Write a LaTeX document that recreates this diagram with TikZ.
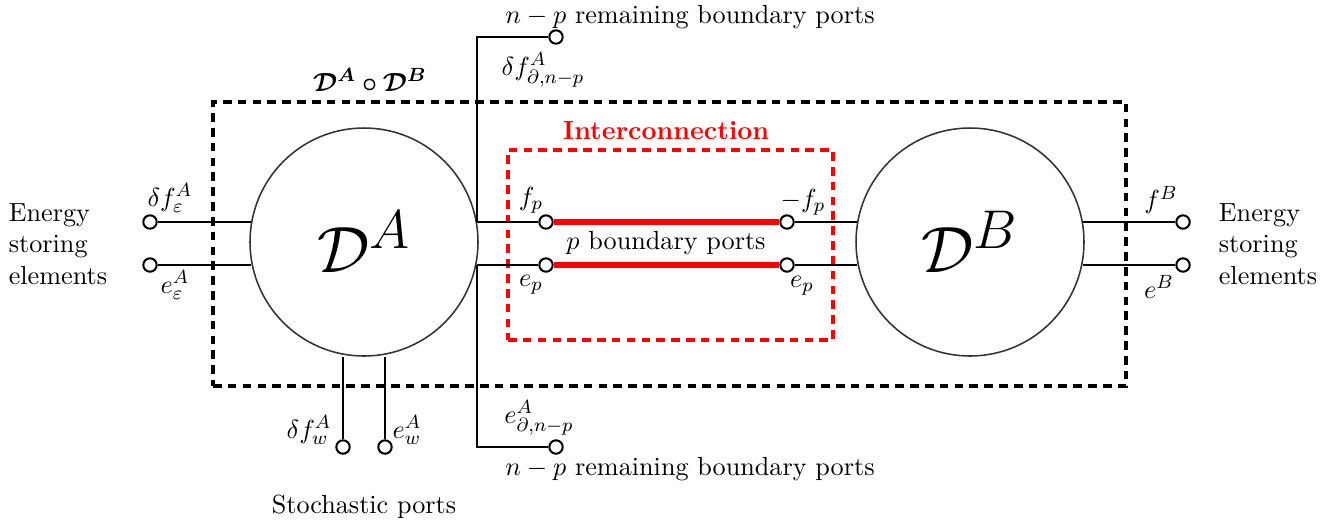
\documentclass[11pt,tikz,border=0pt]{standalone}
\usepackage{amsmath,amssymb,bm}
\begin{document}
\begin{tikzpicture}[x=0.418pt,y=-0.418pt,
  port/.style={circle,draw,line width=0.85pt,inner sep=0pt,minimum size=5.6pt,fill=white},
  wire/.style={line width=0.85pt},
  bigc/.style={circle,draw=black!80,line width=0.65pt,inner sep=0pt,minimum size=95.3pt,font=\Huge},
  frameA/.style={draw,line width=1.3pt,dash pattern=on 3.6pt off 2.6pt,inner sep=0pt},
  frameR/.style={draw=red,line width=1.3pt,dash pattern=on 3.6pt off 2.6pt,inner sep=0pt},
  redwire/.style={red,line width=2.5pt},
  lab/.style={inner sep=0pt},
  txt/.style={inner sep=0pt}]
\useasboundingbox (0,0) rectangle (1341,526);
% frames
\node[frameA,minimum width=913*0.418pt,minimum height=284*0.418pt] (frame) at (669.5,244) {};
\node[frameR,minimum width=325*0.418pt,minimum height=190*0.418pt] (inter) at (670.5,245) {};
% big circles
\node[bigc] (A) at (364,242) {\scalebox{1.1}{$\mathcal{D}^A$}};
\node[bigc] (B) at (970,242) {\scalebox{1.1}{$\mathcal{D}^B$}};
% ports
\node[port] (pl1) at (150,222) {};
\node[port] (pl2) at (150,265) {};
\node[port] (pr1) at (1183,222) {};
\node[port] (pr2) at (1183,265) {};
\node[port] (ps1) at (343,447) {};
\node[port] (ps2) at (385,447) {};
\node[port] (pt) at (556,37) {};
\node[port] (pb) at (556,447) {};
\node[port] (pi1) at (546,222) {};
\node[port] (pi2) at (546,265) {};
\node[port] (pj1) at (787,222) {};
\node[port] (pj2) at (787,265) {};
% wires
\draw[wire] (pl1) -- (pl1 -| A.170);
\draw[wire] (pl2) -- (pl2 -| A.190);
\draw[wire] (pi1) -- (pi1 -| A.10);
\draw[wire] (pi2) -- (pi2 -| A.-10);
\draw[wire] (pt) -| (pi1 -| A.10);
\draw[wire] (pb) -| (pi2 -| A.-10);
\draw[wire] (ps1) -- (ps1 |- A.south);
\draw[wire] (ps2) -- (ps2 |- A.south);
\draw[wire] (pj1) -- (pj1 -| B.170);
\draw[wire] (pj2) -- (pj2 -| B.190);
\draw[wire] (pr1) -- (pr1 -| B.10);
\draw[wire] (pr2) -- (pr2 -| B.-10);
\draw[redwire] (pi1) -- (pj1);
\draw[redwire] (pi2) -- (pj2);
% labels
\node[lab] (l1) at (170,198) {$\delta f_{\varepsilon}^{A}$};
\node[lab] (l2) at (175,285) {$e_{\varepsilon}^{A}$};
\node[lab] (l3) at (1161,200) {$f^{B}$};
\node[lab] (l4) at (1159,287) {$e^{B}$};
\node[lab] (l5) at (531,200) {$f_p$};
\node[lab] (l6) at (531,285) {$e_p$};
\node[lab] (l7) at (803,202) {$-f_p$};
\node[lab] (l8) at (802,286) {$e_p$};
\node[lab] (l9) at (309,430) {$\delta f_{w}^{A}$};
\node[lab] (l10) at (407,430) {$e_{w}^{A}$};
\node[lab] (l11) at (543,70) {$\delta f^{A}_{\partial,n-p}$};
\node[lab] (l12) at (539,418) {$e^{A}_{\partial,n-p}$};
\node[txt] (t1) at (690,17) {$n-p$ remaining boundary ports};
\node[txt] (t2) at (690,469) {$n-p$ remaining boundary ports};
\node[txt] (t3) at (666,243) {$p$ boundary ports};
\node[txt,red,font=\bfseries] (t4) at (666,131) {Interconnection};
\node[lab] (t5) at (370,80) {$\boldsymbol{\mathcal{D}^A\circ\mathcal{D}^B}$};
\node[txt] (t6) at (364,507) {Stochastic ports};
\node[txt,align=left,font=\linespread{0.97}\selectfont] (t7) at (58,244) {Energy\\storing\\elements};
\node[txt,align=left,font=\linespread{0.97}\selectfont] (t8) at (1268,244) {Energy\\storing\\elements};
\end{tikzpicture}
\end{document}
